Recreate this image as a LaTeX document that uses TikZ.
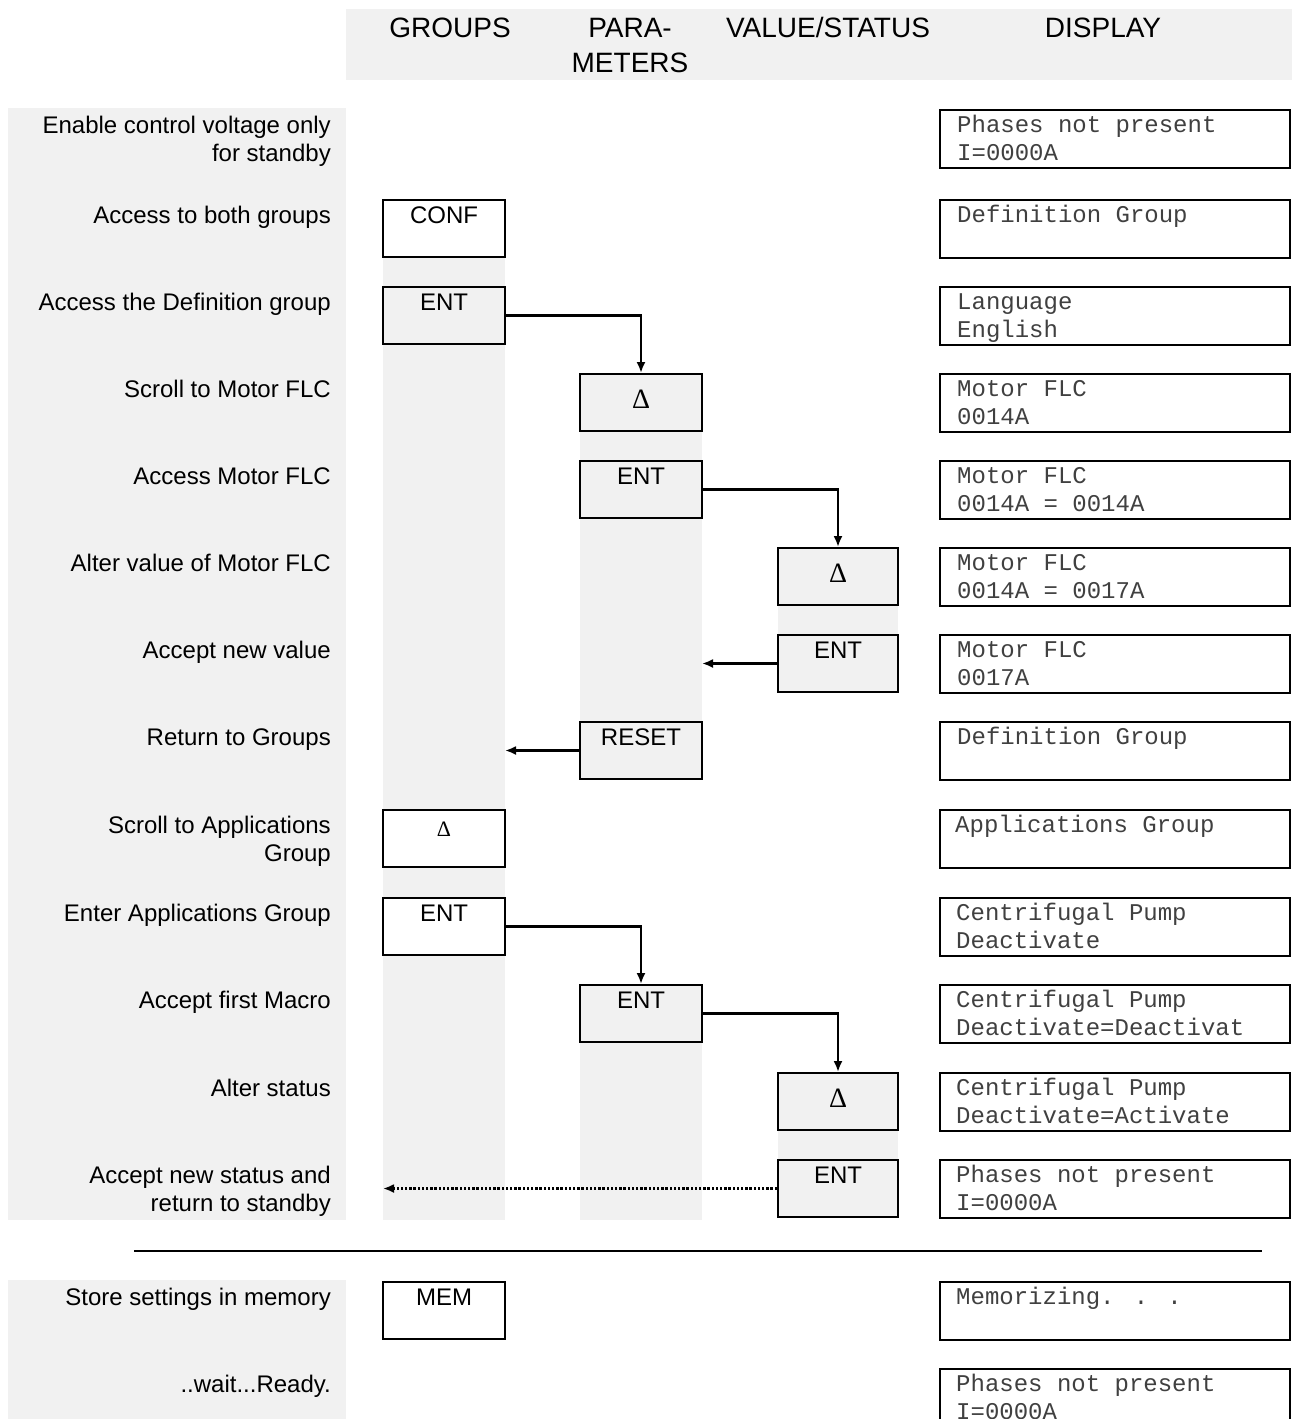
\documentclass[tikz,border=0pt]{standalone}
\usepackage{fontspec}
\setmainfont{Liberation Sans}
\newfontfamily\monof{Liberation Mono}
\newfontfamily\serf{Liberation Serif}
\usetikzlibrary{arrows.meta}
\definecolor{bg}{RGB}{241,241,241}
\begin{document}
\begin{tikzpicture}[x=1pt,y=-1pt,
  panel/.style={fill=bg, draw=none},
  hdr/.style={anchor=base, inner sep=0pt, font=\fontsize{28}{34}\selectfont},
  lab/.style={anchor=north east, align=right, inner sep=0pt, font=\fontsize{24}{28.5}\selectfont},
  btn/.style={draw, line width=2pt, fill=bg, minimum width=122pt, inner xsep=0pt, inner ysep=5pt,
    text height=18pt, text depth=29pt, font=\fontsize{24}{28}\selectfont},
  wbtn/.style={btn, fill=white},
  dbtn/.style={btn, inner ysep=16pt, text depth=7pt, font=\serf\fontsize{28}{32}\selectfont},
  sdbtn/.style={btn, fill=white, inner ysep=8pt, text depth=23pt, font=\serf\fontsize{22}{26}\selectfont},
  disp/.style={draw, line width=2pt, minimum width=350pt, minimum height=58pt, inner sep=0pt},
  dtxt/.style={anchor=north west, align=left, inner sep=0pt, font=\monof\fontsize{24}{28}\selectfont, text=black!75},
  conn/.style={line width=2.2pt, -{Latex[length=11pt,width=9pt]}},
  dconn/.style={conn, line width=2.4pt, dash pattern=on 2.4pt off 1.8pt}
]
\clip (0,0) rectangle (1296,1419);
\fill[white] (0,0) rectangle (1296,1419);
% gray panels
\fill[panel] (346,9) rectangle (1292,80);
\fill[panel] (8,108) rectangle (346,1220);
\fill[panel] (8,1280) rectangle (346,1419);
\fill[panel] (383,257) rectangle (505,1220);
\fill[panel] (580,374) rectangle (702,779);
\fill[panel] (580,985) rectangle (702,1220);
\fill[panel] (778,548) rectangle (898,692);
\fill[panel] (778,1073) rectangle (898,1218);
% header
\node[hdr] (hg) at (450,37) {GROUPS};
\node[hdr] (hp1) at (630,37) {PARA-};
\node[hdr] (hp2) at (630,72) {METERS};
\node[hdr] (hv) at (828,37) {VALUE/STATUS};
\node[hdr] (hd) at (1103,37) {DISPLAY};
% left labels
\node[lab] (l1) at (331,115) {\rule{0pt}{18pt}Enable control voltage only\\for standby};
\node[lab] (l2) at (331,205) {\rule{0pt}{18pt}Access to both groups};
\node[lab] (l3) at (331,292) {\rule{0pt}{18pt}Access the Definition group};
\node[lab] (l4) at (331,379) {\rule{0pt}{18pt}Scroll to Motor FLC};
\node[lab] (l5) at (331,466) {\rule{0pt}{18pt}Access Motor FLC};
\node[lab] (l6) at (331,553) {\rule{0pt}{18pt}Alter value of Motor FLC};
\node[lab] (l7) at (331,640) {\rule{0pt}{18pt}Accept new value};
\node[lab] (l8) at (331,727) {\rule{0pt}{18pt}Return to Groups};
\node[lab] (l9) at (331,815) {\rule{0pt}{18pt}Scroll to Applications\\Group};
\node[lab] (l10) at (331,903) {\rule{0pt}{18pt}Enter Applications Group};
\node[lab] (l11) at (331,990) {\rule{0pt}{18pt}Accept first Macro};
\node[lab] (l12) at (331,1078) {\rule{0pt}{18pt}Alter status};
\node[lab] (l13) at (331,1165) {\rule{0pt}{18pt}Accept new status and\\return to standby};
\node[lab] (l14) at (331,1287) {\rule{0pt}{18pt}Store settings in memory};
\node[lab] (l15) at (331,1374) {\rule{0pt}{18pt}..wait...Ready.};
% buttons
\node[wbtn] (conf) at (444,228.5) {CONF};
\node[btn] (entA) at (444,315.5) {ENT};
\node[dbtn] (delA) at (641,402.5) {Δ};
\node[btn] (entB) at (641,489.5) {ENT};
\node[dbtn, minimum width=120pt] (delB) at (838,576.5) {Δ};
\node[btn, minimum width=120pt] (entC) at (838,663.5) {ENT};
\node[btn] (reset) at (641,750.5) {RESET};
\node[sdbtn] (delC) at (444,838.5) {Δ};
\node[wbtn] (entD) at (444,926.5) {ENT};
\node[btn] (entE) at (641,1013.5) {ENT};
\node[dbtn, minimum width=120pt] (delD) at (838,1101.5) {Δ};
\node[btn, minimum width=120pt] (entF) at (838,1188.5) {ENT};
\node[wbtn] (mem) at (444,1310.5) {MEM};
% displays
\node[disp] (s1) at (1115,139) {};
\node[dtxt] (s1t) at (957,114) {\rule{0pt}{18pt}Phases not present\\I=0000A};
\node[disp] (s2) at (1115,229) {};
\node[dtxt] (s2t) at (957,204) {\rule{0pt}{18pt}Definition Group};
\node[disp] (s3) at (1115,316) {};
\node[dtxt] (s3t) at (957,291) {\rule{0pt}{18pt}Language\\English};
\node[disp] (s4) at (1115,403) {};
\node[dtxt] (s4t) at (957,378) {\rule{0pt}{18pt}Motor FLC\\0014A};
\node[disp] (s5) at (1115,490) {};
\node[dtxt] (s5t) at (957,465) {\rule{0pt}{18pt}Motor FLC\\0014A = 0014A};
\node[disp] (s6) at (1115,577) {};
\node[dtxt] (s6t) at (957,552) {\rule{0pt}{18pt}Motor FLC\\0014A = 0017A};
\node[disp] (s7) at (1115,664) {};
\node[dtxt] (s7t) at (957,639) {\rule{0pt}{18pt}Motor FLC\\0017A};
\node[disp] (s8) at (1115,751) {};
\node[dtxt] (s8t) at (957,726) {\rule{0pt}{18pt}Definition Group};
\node[disp] (s9) at (1115,839) {};
\node[dtxt] (s9t) at (955,814) {\rule{0pt}{18pt}Applications Group};
\node[disp] (s10) at (1115,927) {};
\node[dtxt] (s10t) at (956,902) {\rule{0pt}{18pt}Centrifugal Pump\\Deactivate};
\node[disp] (s11) at (1115,1014) {};
\node[dtxt] (s11t) at (956,989) {\rule{0pt}{18pt}Centrifugal Pump\\Deactivate=Deactivat};
\node[disp] (s12) at (1115,1102) {};
\node[dtxt] (s12t) at (956,1077) {\rule{0pt}{18pt}Centrifugal Pump\\Deactivate=Activate};
\node[disp] (s13) at (1115,1189) {};
\node[dtxt] (s13t) at (956,1164) {\rule{0pt}{18pt}Phases not present\\I=0000A};
\node[disp] (s14) at (1115,1311) {};
\node[dtxt] (s14t) at (956,1286) {\rule{0pt}{18pt}Memorizing. . .};
\node[disp] (s15) at (1115,1398) {};
\node[dtxt] (s15t) at (956,1373) {\rule{0pt}{18pt}Phases not present\\I=0000A};
% separator
\coordinate (sepL) at (134,1251);
\coordinate (sepR) at (1262,1251);
\draw[line width=2.5pt] (sepL) -- (sepR);
% connectors
\coordinate (pR) at (702,663.5);
\coordinate (gR) at (505,750.5);
\coordinate (gL) at (383,1188.5);
\draw[conn] (entA.east) -| (delA.north);
\draw[conn] (entB.east) -| (delB.north);
\draw[conn] (entC.west) -- (pR);
\draw[conn] (reset.west) -- (gR);
\draw[conn] (entD.east) -| (entE.north);
\draw[conn] (entE.east) -| (delD.north);
\draw[dconn] (entF.west) -- (gL);
\end{tikzpicture}
\end{document}
